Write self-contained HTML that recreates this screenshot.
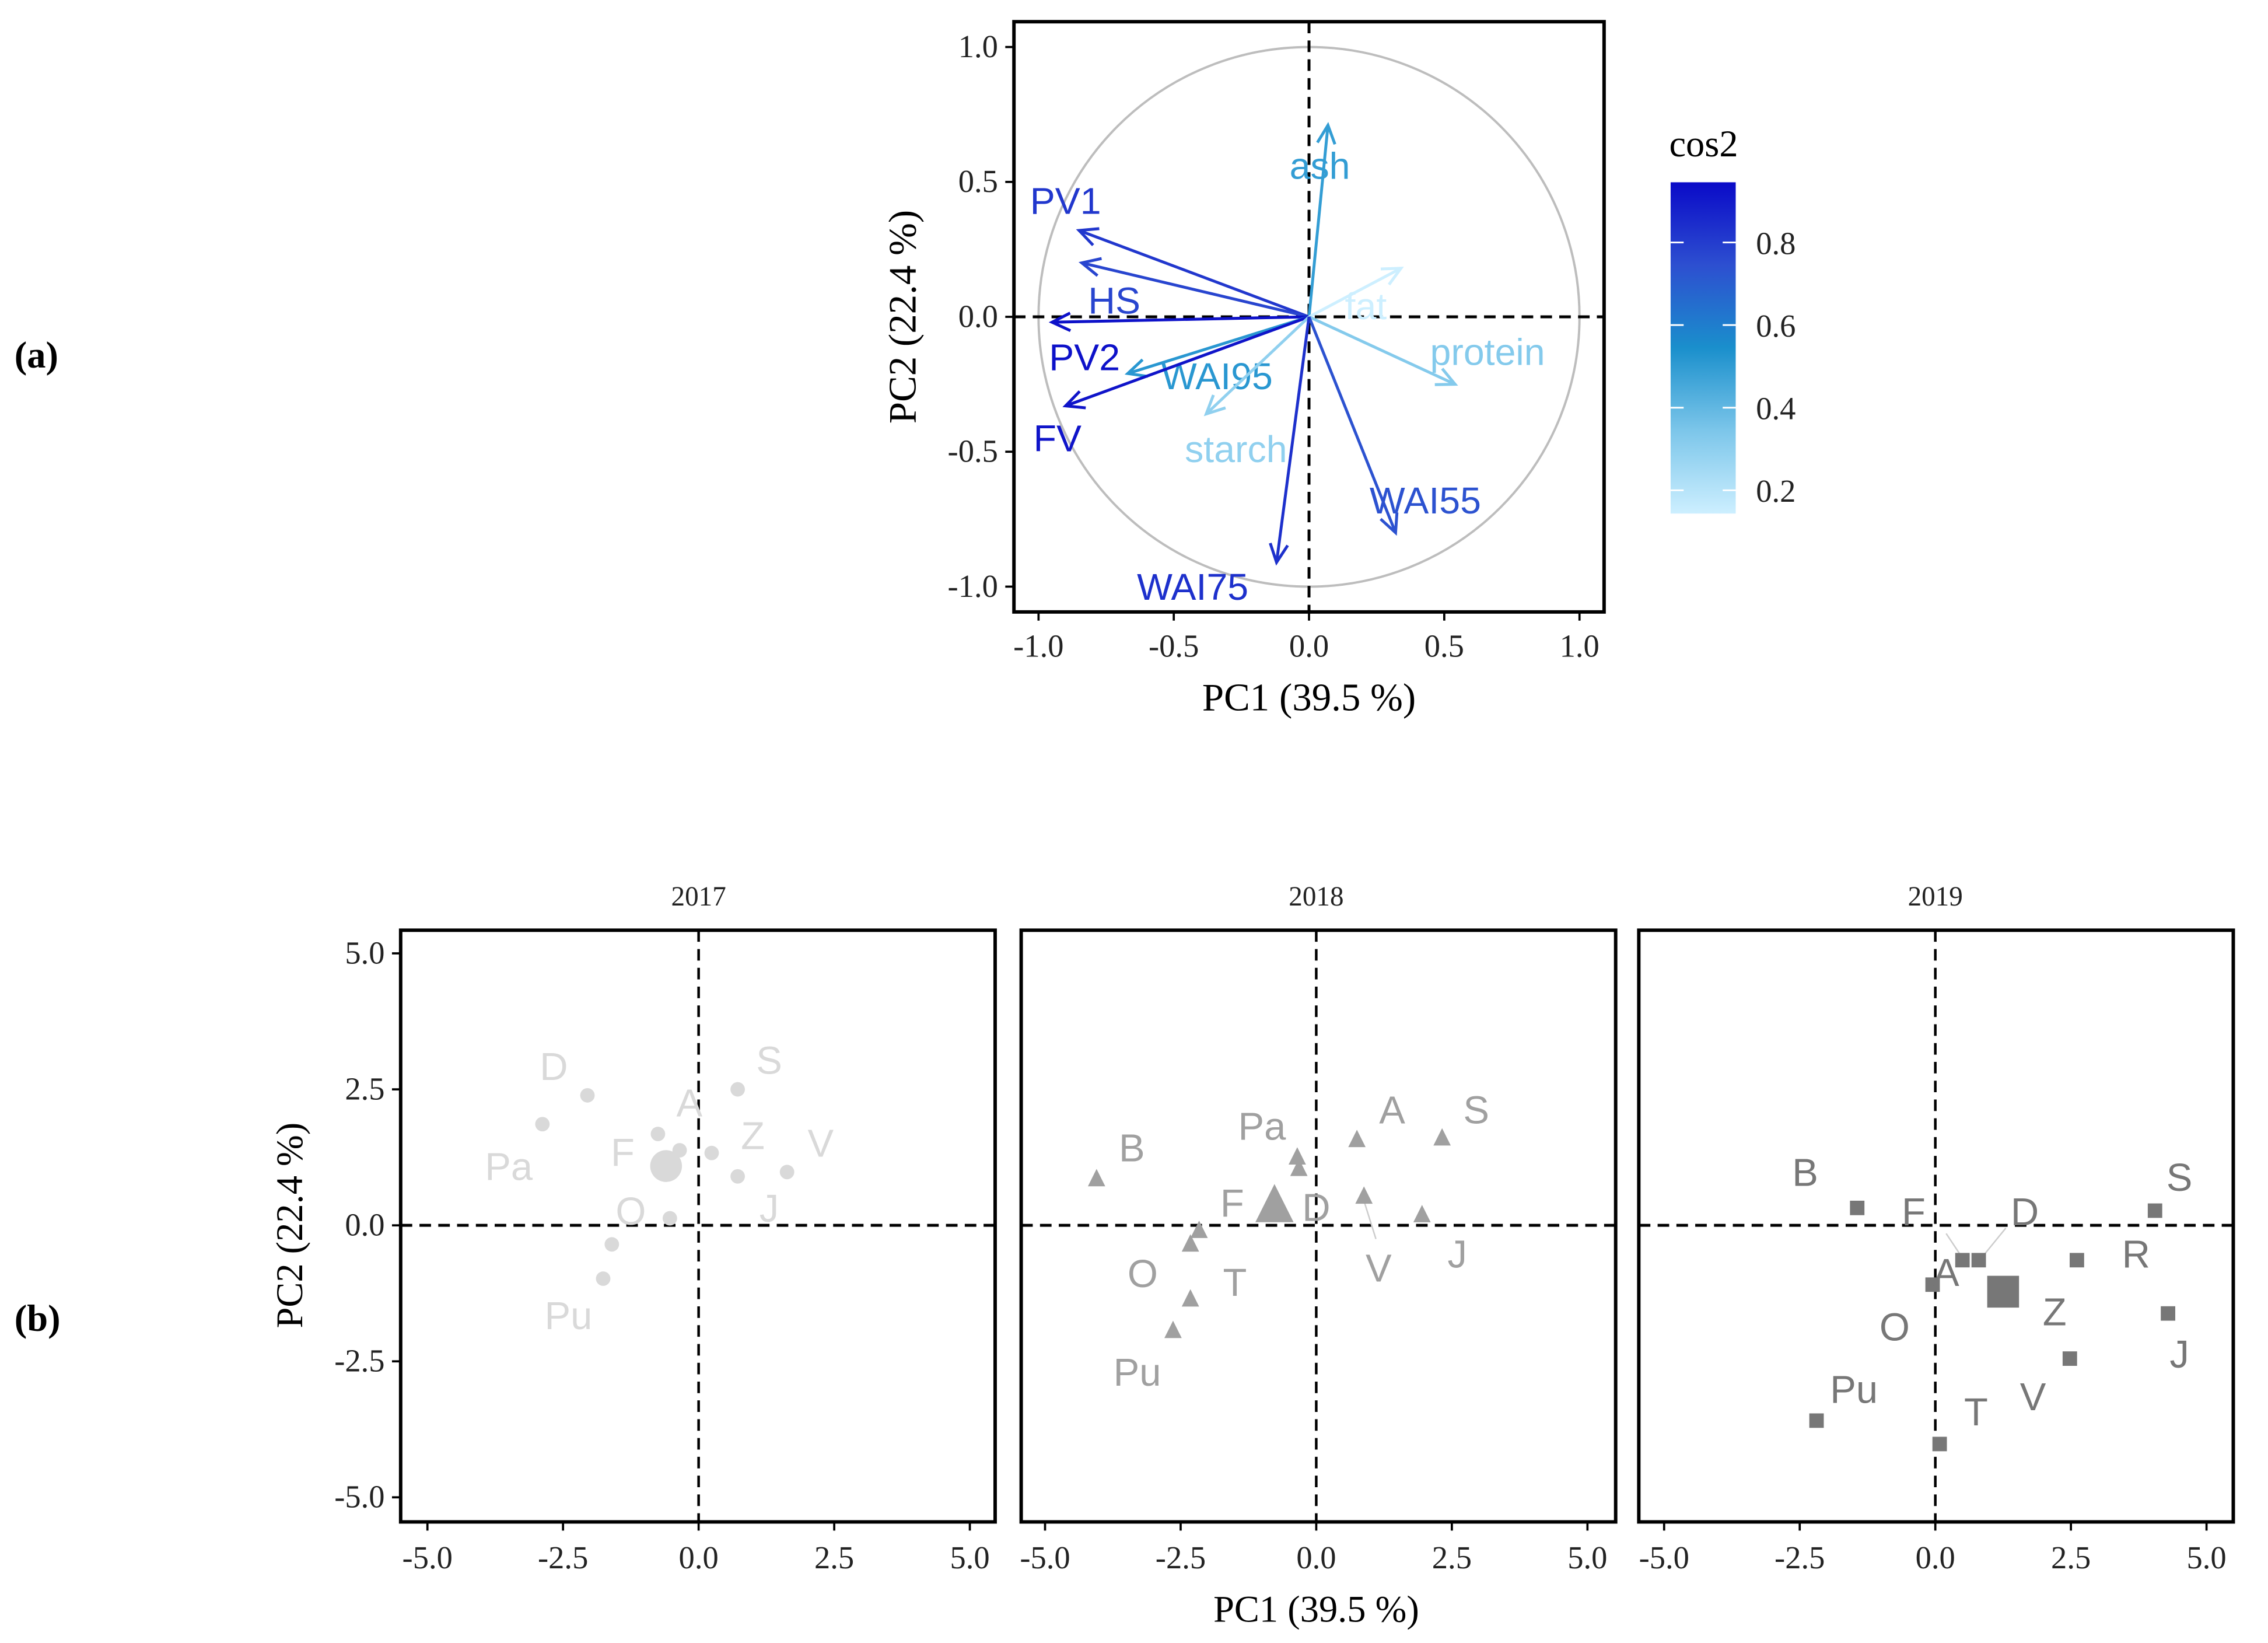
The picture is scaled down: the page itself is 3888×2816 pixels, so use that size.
<!DOCTYPE html>
<html><head><meta charset="utf-8"><style>
html,body{margin:0;padding:0;background:#fff;}
svg{display:block;}
.serif{font-family:"Liberation Serif",serif;}
.sans{font-family:"Liberation Sans",sans-serif;}
</style></head><body>
<svg id="fig" width="3888" height="2816" viewBox="0 0 1568 1135.7" preserveAspectRatio="none" xmlns="http://www.w3.org/2000/svg">
<defs>
<linearGradient id="cbar" x1="0" y1="0" x2="0" y2="1">
<stop offset="0" stop-color="#0a0ac8"/>
<stop offset="0.25" stop-color="#2d4fd0"/>
<stop offset="0.5" stop-color="#1a8fcc"/>
<stop offset="0.75" stop-color="#7cc6ea"/>
<stop offset="1" stop-color="#cdefff"/>
</linearGradient>
</defs>
<text x="10" y="254" class="serif" font-size="26" font-weight="bold">(a)</text>
<text x="10" y="920" class="serif" font-size="26" font-weight="bold">(b)</text>
<g id="topChart"></g>
<g id="bottomChart"></g>
</svg>
<script>
const NS="http://www.w3.org/2000/svg";
// ---- Variable correlation circle data ----
const varNames=["ash","PV1","HS","PV2","WAI95","FV","starch","fat","protein","WAI55","WAI75"];
const varPC1=[0.07,-0.85,-0.84,-0.95,-0.67,-0.9,-0.38,0.34,0.54,0.32,-0.12];
const varPC2=[0.71,0.32,0.20,-0.02,-0.21,-0.33,-0.36,0.18,-0.25,-0.80,-0.91];
const varCos2=[0.5,0.82,0.78,0.93,0.52,0.92,0.3,0.15,0.33,0.74,0.84];
const labPC1=[0.04,-0.9,-0.72,-0.83,-0.34,-0.93,-0.27,0.21,0.66,0.43,-0.43];
const labPC2=[0.56,0.43,0.06,-0.15,-0.22,-0.45,-0.49,0.04,-0.13,-0.68,-1.0];
const topTicks=[-1.0,-0.5,0.0,0.5,1.0];
const cbarTicks=[0.2,0.4,0.6,0.8];
// ---- Individuals data ----
const years=["2017","2018","2019"];
const ptX=[[-2.88,-2.05,-0.75,-0.35,0.24,-0.6,0.72,0.72,1.63,-0.53,-1.6,-1.76],
 [-4.05,-0.35,-0.32,0.75,2.32,0.88,1.95,-0.77,-2.16,-2.32,-2.32,-2.64],
 [-1.44,4.05,2.61,0.8,0.5,-0.05,1.25,4.29,2.48,-2.19,0.08]];
const ptY=[[1.86,2.39,1.68,1.38,1.33,1.09,2.5,0.9,0.98,0.13,-0.35,-0.98],
 [0.85,1.25,1.04,1.57,1.6,0.53,0.19,0.35,-0.1,-0.35,-1.36,-1.94],
 [0.32,0.27,-0.64,-0.64,-0.64,-1.09,-1.22,-1.62,-2.45,-3.59,-4.02]];
const ptBig=[[0,0,0,0,0,1,0,0,0,0,0,0],[0,0,0,0,0,0,0,1,0,0,0,0],[0,0,0,0,0,0,1,0,0,0,0]];
const lbText=[["D","A","S","Z","V","Pa","F","O","J","Pu"],
 ["B","Pa","A","S","F","D","O","T","V","J","Pu"],
 ["B","F","D","S","R","A","O","Z","J","Pu","T","V"]];
const lbX=[[-2.67,-0.17,1.3,1.0,2.25,-3.5,-1.4,-1.25,1.3,-2.4],
 [-3.4,-1.0,1.4,2.95,-1.55,0.0,-3.2,-1.5,1.15,2.6,-3.3],
 [-2.4,-0.4,1.65,4.5,3.7,0.2,-0.75,2.2,4.5,-1.5,0.75,1.8]];
const lbY=[[2.94,2.27,3.05,1.67,1.53,1.1,1.36,0.28,0.33,-1.64],
 [1.44,1.84,2.14,2.14,0.43,0.35,-0.87,-1.03,-0.77,-0.51,-2.68],
 [0.99,0.27,0.27,0.9,-0.51,-0.85,-1.85,-1.57,-2.35,-3.0,-3.41,-3.13]];
const botTicks=[-5.0,-2.5,0.0,2.5,5.0];

function el(tag,attrs,parent){const e=document.createElementNS(NS,tag);for(const k in attrs)e.setAttribute(k,attrs[k]);parent.appendChild(e);return e;}
function txt(s,attrs,parent){const e=el("text",attrs,parent);e.textContent=s;return e;}
function cosColor(c){
 const stops=[[0.15,[205,239,255]],[0.35,[124,198,234]],[0.55,[26,143,204]],[0.75,[45,79,208]],[0.95,[10,10,200]]];
 if(c<=stops[0][0])return "rgb("+stops[0][1]+")";
 for(let i=1;i<stops.length;i++){if(c<=stops[i][0]){const t=(c-stops[i-1][0])/(stops[i][0]-stops[i-1][0]);const a=stops[i-1][1],b=stops[i][1];return "rgb("+a.map((v,j)=>Math.round(v+(b[j]-v)*t)).join(",")+")";}}
 return "rgb("+stops[4][1]+")";
}
// ---- Top chart ----
const topG=document.getElementById("topChart");
const tx=v=>905+v*187, ty=v=>219-v*186.5;
el("ellipse",{cx:tx(0),cy:ty(0),rx:187,ry:186.5,fill:"none",stroke:"#bdbdbd","stroke-width":1.6},topG);
let ln;
ln=el("line",{x1:701,y1:ty(0),x2:1109,y2:ty(0),stroke:"#000","stroke-width":2,"stroke-dasharray":"8,5"},topG);


ln=el("line",{x1:tx(0),y1:15,x2:tx(0),y2:423,stroke:"#000","stroke-width":2,"stroke-dasharray":"8,5"},topG);


for(let i=0;i<varNames.length;i++){
 const col=cosColor(varCos2[i]);
 const x2=tx(varPC1[i]),y2=ty(varPC2[i]),x1=tx(0),y1=ty(0);
 const g=el("g",{},topG);
 
 
 el("line",{x1:x1,y1:y1,x2:x2,y2:y2,stroke:col,"stroke-width":2},g);
 const ang=Math.atan2(y2-y1,x2-x1),h=14;
 el("polyline",{points:(x2-h*Math.cos(ang-0.45))+","+(y2-h*Math.sin(ang-0.45))+" "+x2+","+y2+" "+(x2-h*Math.cos(ang+0.45))+","+(y2-h*Math.sin(ang+0.45)),fill:"none",stroke:col,"stroke-width":2},g);
 const t=txt(varNames[i],{x:tx(labPC1[i]),y:ty(labPC2[i])+9,"text-anchor":"middle",fill:col,"font-size":26,class:"sans"},topG);
 
 
}
el("rect",{x:701,y:15,width:408,height:408,fill:"none",stroke:"#000","stroke-width":2.4},topG);
for(const v of topTicks){
 el("line",{x1:tx(v),y1:423,x2:tx(v),y2:429,stroke:"#000","stroke-width":1.5},topG);
 const a=txt(v.toFixed(1),{x:tx(v),y:454,"text-anchor":"middle","font-size":22,class:"serif",fill:"#222"},topG);
 
 
 el("line",{x1:695,y1:ty(v),x2:701,y2:ty(v),stroke:"#000","stroke-width":1.5},topG);
 const b=txt(v.toFixed(1),{x:690,y:ty(v)+7,"text-anchor":"end","font-size":22,class:"serif",fill:"#222"},topG);
 
 
}
let t2=txt("PC1 (39.5 %)",{x:905,y:491,"text-anchor":"middle","font-size":27,class:"serif"},topG);


t2=txt("PC2 (22.4 %)",{x:0,y:0,transform:"translate(633,219) rotate(-90)","text-anchor":"middle","font-size":27,class:"serif"},topG);


// colorbar
const cy=v=>396-v*285.5;
t2=txt("cos2",{x:1154,y:108,"font-size":26,class:"serif"},topG);


const cb=el("rect",{x:1155,y:126,width:45,height:229,fill:"url(#cbar)"},topG);


for(const v of cbarTicks){
 el("line",{x1:1155,y1:cy(v),x2:1164,y2:cy(v),stroke:"#fff","stroke-width":1.2},topG);
 el("line",{x1:1191,y1:cy(v),x2:1200,y2:cy(v),stroke:"#fff","stroke-width":1.2},topG);
 const a=txt(v.toFixed(1),{x:1214,y:cy(v)+8,"font-size":22,class:"serif",fill:"#222"},topG);
 
 
}
// ---- Bottom facets ----
const botG=document.getElementById("bottomChart");
const panelL=[277,706,1133], zeroX=[483,910,1338];
const colors=["#d9d9d9","#a0a0a0","#777777"];
const by=v=>847-v*37.6;
for(let p=0;p<3;p++){
 const g=el("g",{},botG);
 
 
 const bx=v=>zeroX[p]+v*37.5;
 const tt=txt(years[p],{x:bx(0),y:626,"text-anchor":"middle","font-size":19,class:"serif",fill:"#222"},g);
 
 
 el("line",{x1:panelL[p],y1:by(0),x2:panelL[p]+411,y2:by(0),stroke:"#000","stroke-width":2,"stroke-dasharray":"8,5"},g);
 el("line",{x1:bx(0),y1:643,x2:bx(0),y2:1052,stroke:"#000","stroke-width":1.8,"stroke-dasharray":"8,5"},g);
 if(p===1){el("line",{x1:bx(0.88),y1:by(0.45),x2:bx(1.1),y2:by(-0.25),stroke:"#ccc","stroke-width":1},g);}
 if(p===2){el("line",{x1:bx(0.2),y1:by(-0.15),x2:bx(0.5),y2:by(-0.6),stroke:"#ccc","stroke-width":1},g);
  el("line",{x1:bx(1.3),y1:by(-0.05),x2:bx(0.85),y2:by(-0.6),stroke:"#ccc","stroke-width":1},g);}
 for(let i=0;i<ptX[p].length;i++){
  const x=bx(ptX[p][i]),y=by(ptY[p][i]),s=ptBig[p][i]?2.2:1;let m;
  if(p===0)m=el("circle",{cx:x,cy:y,r:5*s,fill:colors[p]},g);
  else if(p===1)m=el("polygon",{points:x+","+(y-7*s)+" "+(x-6*s)+","+(y+5*s)+" "+(x+6*s)+","+(y+5*s),fill:colors[p]},g);
  else m=el("rect",{x:x-5*s,y:y-5*s,width:10*s,height:10*s,fill:colors[p]},g);
  
  
 }
 for(let i=0;i<lbText[p].length;i++){
  const a=txt(lbText[p][i],{x:bx(lbX[p][i]),y:by(lbY[p][i])+10,"text-anchor":"middle","font-size":27,class:"sans",fill:colors[p]},g);
  
  
 }
 el("rect",{x:panelL[p],y:643,width:411,height:409,fill:"none",stroke:"#000","stroke-width":2.4},g);
 for(const v of botTicks){
  el("line",{x1:bx(v),y1:1052,x2:bx(v),y2:1058,stroke:"#000","stroke-width":1.5},g);
  const a=txt(v.toFixed(1),{x:bx(v),y:1084,"text-anchor":"middle","font-size":22,class:"serif",fill:"#222"},g);
  
  
 }
}
for(const v of botTicks){
 el("line",{x1:271,y1:by(v),x2:277,y2:by(v),stroke:"#000","stroke-width":1.5},botG);
 const a=txt(v.toFixed(1),{x:266,y:by(v)+7,"text-anchor":"end","font-size":22,class:"serif",fill:"#222"},botG);
 
 
}
t2=txt("PC1 (39.5 %)",{x:910,y:1121,"text-anchor":"middle","font-size":26,class:"serif"},botG);


t2=txt("PC2 (22.4 %)",{x:0,y:0,transform:"translate(209,847) rotate(-90)","text-anchor":"middle","font-size":26,class:"serif"},botG);


</script>
</body></html>
